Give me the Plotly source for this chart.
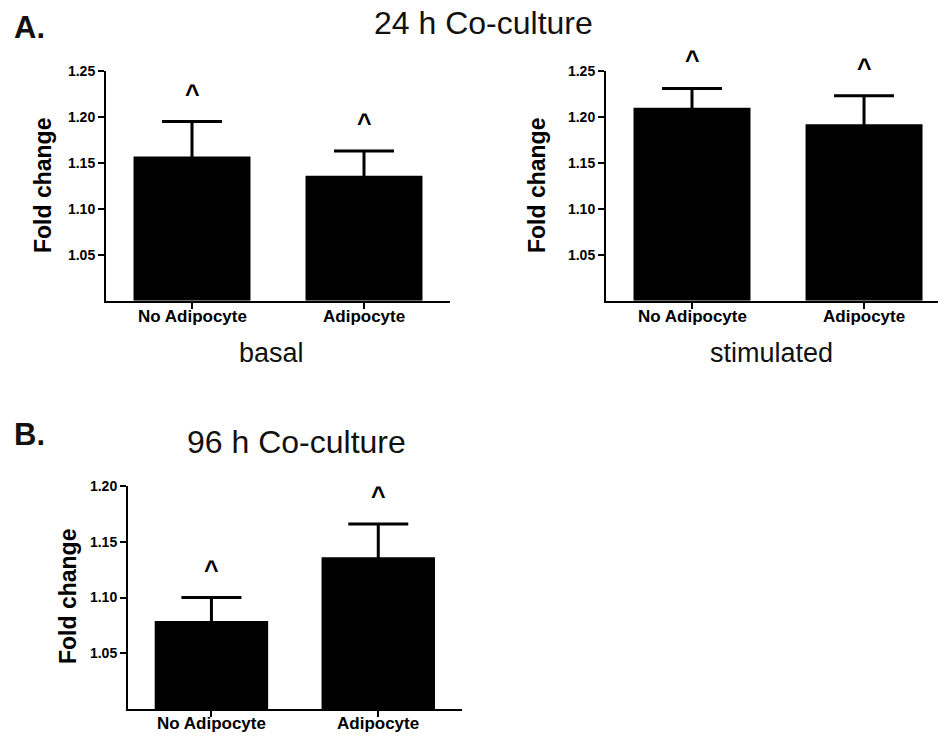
import plotly.graph_objects as go

# ---------------- data ----------------
categories = ["No Adipocyte", "Adipocyte"]

basal_24h_mean = [1.157, 1.136]
basal_24h_err = [0.038, 0.027]

stim_24h_mean = [1.210, 1.192]
stim_24h_err = [0.021, 0.031]

coculture_96h_mean = [1.079, 1.136]
coculture_96h_err = [0.021, 0.030]

sig_marker = ["^", "^"]

ticks_24h = [1.05, 1.10, 1.15, 1.20, 1.25]
ticks_96h = [1.05, 1.10, 1.15, 1.20]

W, H = 940, 736
FONT = "Liberation Sans, Arial, Helvetica, sans-serif"


def px(x):
    return x / W


def py(y):
    return 1 - y / H


fig = go.Figure()

panels = [
    (basal_24h_mean, basal_24h_err, "x", "y", 316),
    (stim_24h_mean, stim_24h_err, "x2", "y2", 316),
    (coculture_96h_mean, coculture_96h_err, "x3", "y3", 723),
]

for mean, err, xa, ya, _ in panels:
    fig.add_trace(go.Bar(
        x=[0, 1], y=[m - 1.0 for m in mean], base=1.0,
        width=0.68,
        marker=dict(color="black", line=dict(width=0)),
        error_y=dict(type="data", symmetric=True, array=err,
                     color="black", thickness=3, width=30),
        xaxis=xa, yaxis=ya, showlegend=False, hoverinfo="skip",
    ))

common_x = dict(
    tickmode="array", tickvals=[0, 1], showticklabels=False,
    showline=True, linecolor="black", linewidth=2,
    ticks="outside", ticklen=6, tickwidth=2, tickcolor="black",
    showgrid=False, zeroline=False, fixedrange=True, automargin=False,
)
common_y = dict(
    tickmode="array", tickformat=".2f",
    showline=True, linecolor="black", linewidth=2,
    ticks="outside", ticklen=6, tickwidth=2, tickcolor="black",
    tickfont=dict(family=FONT, size=14, color="black", weight="bold"),
    showgrid=False, zeroline=False, fixedrange=True, automargin=False,
)

fig.update_layout(
    template="none",
    width=W, height=H,
    margin=dict(l=0, r=0, t=0, b=0, pad=0, autoexpand=False),
    paper_bgcolor="white", plot_bgcolor="white",
    xaxis=dict(common_x, domain=[px(106), px(450)], range=[-0.5, 1.5], anchor="y"),
    yaxis=dict(common_y, domain=[py(300.7), py(71)], range=[1.0, 1.25],
               tickvals=ticks_24h, anchor="x"),
    xaxis2=dict(common_x, domain=[px(606), px(938)], range=[-0.5, 1.43], anchor="y2"),
    yaxis2=dict(common_y, domain=[py(300.7), py(71)], range=[1.0, 1.25],
                tickvals=ticks_24h, anchor="x2"),
    xaxis3=dict(common_x, domain=[px(128), px(461.7)], range=[-0.5, 1.5], anchor="y3"),
    yaxis3=dict(common_y, domain=[py(709), py(486)], range=[1.0, 1.20],
                tickvals=ticks_96h, anchor="x3"),
    showlegend=False,
)

ann = []
for (mean, err, xa, ya, label_y) in panels:
    for i in range(2):
        # significance caret
        ann.append(dict(
            x=i, y=mean[i] + err[i], xref=xa, yref=ya,
            text=sig_marker[i], showarrow=False,
            yanchor="middle", yshift=28,
            font=dict(family=FONT, size=25, color="black", weight="bold"),
        ))
        # category label under the axis
        ann.append(dict(
            x=i, y=py(label_y), xref=xa, yref="paper",
            text=categories[i], showarrow=False,
            xanchor="center", yanchor="middle",
            font=dict(family=FONT, size=17, color="black", weight="bold"),
        ))

for xc, yc in [(43, 186), (537, 186), (68, 597)]:
    ann.append(dict(
        x=px(xc), y=py(yc), xref="paper", yref="paper",
        text="Fold change", textangle=-90, showarrow=False,
        xanchor="center", yanchor="middle",
        font=dict(family=FONT, size=23, color="black", weight="bold"),
    ))

texts = [
    ("A.", 12, 27, "left", 31, "bold"),
    ("B.", 12, 434, "left", 31, "bold"),
    ("24 h Co-culture", 483.5, 23, "center", 32, "normal"),
    ("96 h Co-culture", 296, 442, "center", 32, "normal"),
    ("basal", 271, 353, "center", 27, "normal"),
    ("stimulated", 771, 353, "center", 27, "normal"),
]
for t, xc, yc, xa_, size, wt in texts:
    ann.append(dict(
        x=px(xc), y=py(yc), xref="paper", yref="paper",
        text=t, showarrow=False, xanchor=xa_, yanchor="middle",
        font=dict(family=FONT, size=size, color="#111111", weight=wt),
    ))

fig.update_layout(annotations=ann)

fig.write_html(
    "out.html",
    include_plotlyjs=True,
    config={"displayModeBar": False},
    post_script="document.body.style.margin='0';document.body.style.overflow='hidden';",
)
